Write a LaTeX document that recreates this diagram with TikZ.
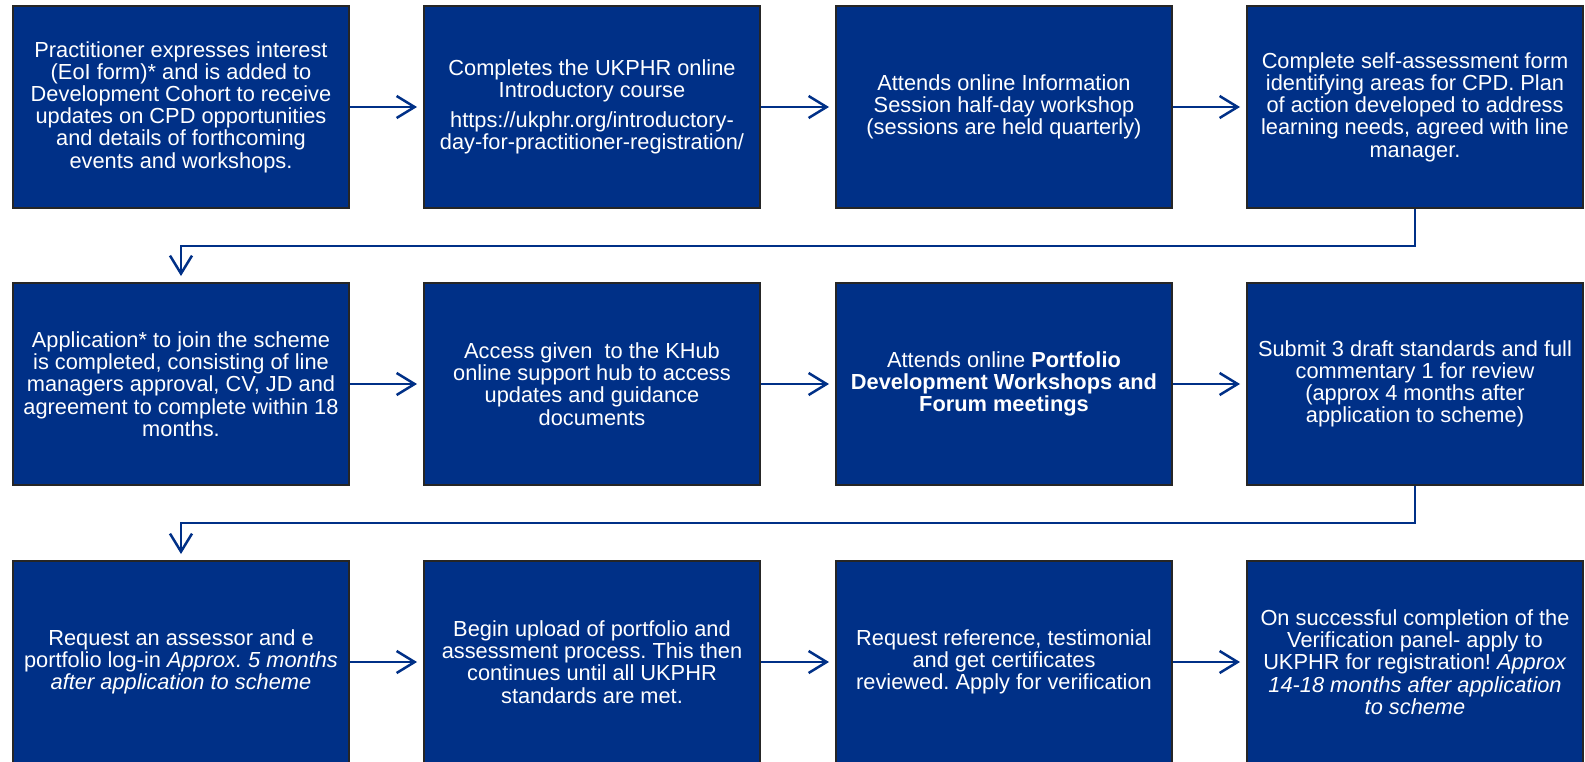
\documentclass[tikz,border=0pt]{standalone}
\usepackage{fontspec}
\setmainfont{Liberation Sans}
\usetikzlibrary{arrows.meta}
\definecolor{navy}{RGB}{0,48,135}
\definecolor{rim}{RGB}{38,38,38}
\frenchspacing
\tikzset{
  stage/.style={draw=rim, line width=2pt, fill=navy, text=white, align=center,
    anchor=north west, inner sep=0pt, minimum width=336pt, minimum height=202pt,
    font=\fontsize{21.8}{22.2}\selectfont},
  flow/.style={draw=navy, line width=2pt,
    -{Straight Barb[length=18pt,width=22pt,line width=2.5pt]}, shorten >=6pt},
}
\begin{document}
\begin{tikzpicture}[x=1pt,y=-1pt]
			\useasboundingbox[fill=white] (0,0) rectangle (1585,761);
			% row 1
			\node[stage] (eoi) at (12,5) {Practitioner expresses interest\\(EoI form)* and is added to\\Development Cohort to receive\\updates on CPD opportunities\\and details of forthcoming\\events and workshops.};
			\node[stage] (intro) at (423,5) {Completes the UKPHR online\\Introductory course\\[8pt]https://ukphr.org/introductory-\\day-for-practitioner-registration/};
			\node[stage] (info) at (835,5) {Attends online Information\\Session half-day workshop\\(sessions are held quarterly)};
			\node[stage] (selfcheck) at (1246,5) {Complete self-assessment form\\identifying areas for CPD. Plan\\of action developed to address\\learning needs, agreed with line\\manager.};
			% row 2
			\node[stage] (apply) at (12,282) {Application* to join the scheme\\is completed, consisting of line\\managers approval, CV, JD and\\agreement to complete within 18\\months.};
			\node[stage] (khub) at (423,282) {Access given\ \ to the KHub\\online support hub to access\\updates and guidance\\documents};
			\node[stage] (forum) at (835,282) {Attends online \textbf{Portfolio}\\\textbf{Development Workshops and}\\\textbf{Forum meetings}};
			\node[stage] (draft) at (1246,282) {Submit 3 draft standards and full\\commentary 1 for review\\(approx 4 months after\\application to scheme)};
			% row 3
			\node[stage] (assessor) at (12,560) {Request an assessor and e\\portfolio log-in \textit{Approx. 5 months}\\\textit{after application to scheme}};
			\node[stage] (upload) at (423,560) {Begin upload of portfolio and\\assessment process. This then\\continues until all UKPHR\\standards are met.};
			\node[stage] (verify) at (835,560) {Request reference, testimonial\\and get certificates\\reviewed. Apply for verification};
			\node[stage] (register) at (1246,560) {On successful completion of the\\Verification panel- apply to\\UKPHR for registration! \textit{Approx}\\\textit{14-18 months after application}\\\textit{to scheme}};
			% connectors
			\draw[flow] (eoi) -- (intro);
			\draw[flow] (intro) -- (info);
			\draw[flow] (info) -- (selfcheck);
			\draw[flow] (selfcheck.south) -- ++(0,37) -| (apply.north);
			\draw[flow] (apply) -- (khub);
			\draw[flow] (khub) -- (forum);
			\draw[flow] (forum) -- (draft);
			\draw[flow] (draft.south) -- ++(0,37) -| (assessor.north);
			\draw[flow] (assessor) -- (upload);
			\draw[flow] (upload) -- (verify);
			\draw[flow] (verify) -- (register);
\end{tikzpicture}
\end{document}
